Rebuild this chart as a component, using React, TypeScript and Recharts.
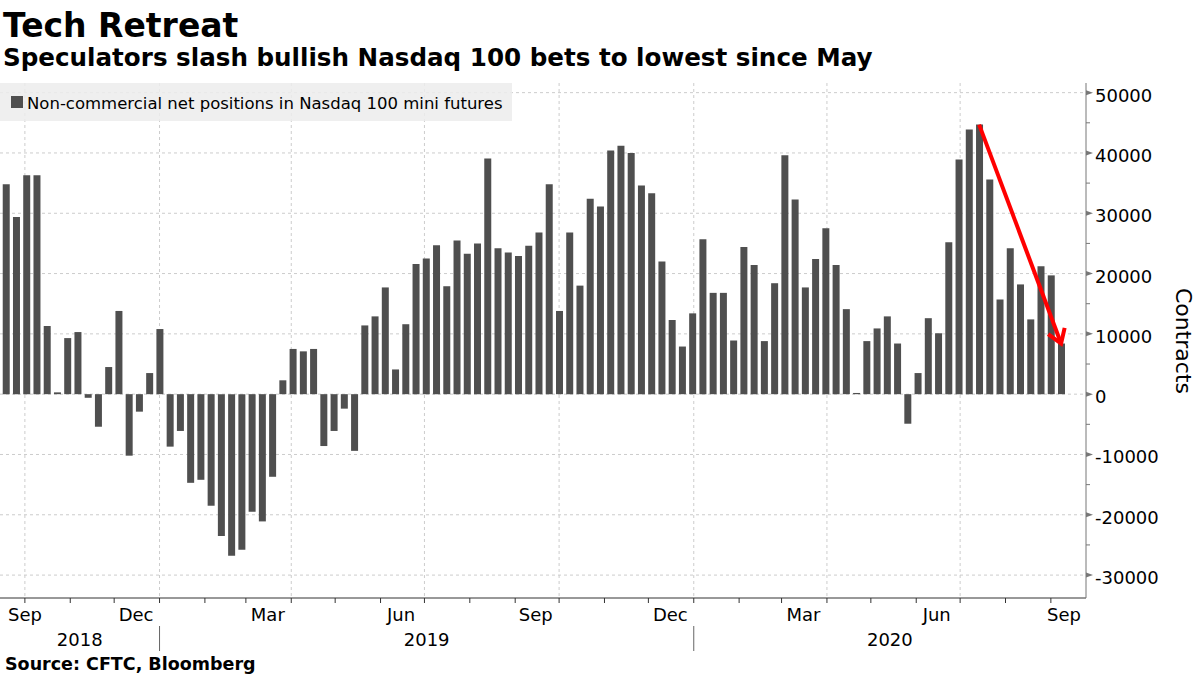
import React from 'react';
import { BarChart, Bar, XAxis, YAxis, CartesianGrid, ReferenceLine } from 'recharts';

const DAY = 86400000;

// weekly CFTC report dates (Tuesdays), Sep 18 2018 .. Sep 8 2020
const firstReport = Date.UTC(2018, 8, 18);

// non-commercial net positions, contracts
const netPositions = [
  34800, 29400, 36300, 36300, 11300, 300, 9300, 10300, -600, -5400,
  4500, 13800, -10200, -2900, 3500, 10800, -8700, -6100, -14700, -14200,
  -18500, -23500, -26800, -25800, -19500, -21100, -13700, 2300, 7500, 7100,
  7500, -8600, -6100, -2400, -9400, 11400, 12900, 17700, 4100, 11600,
  21600, 22500, 24700, 17900, 25500, 23300, 25000, 39100, 24200, 23500,
  22900, 24600, 26800, 34800, 13800, 26800, 18000, 32400, 31100, 40400,
  41200, 40000, 34600, 33300, 22000, 12300, 7900, 13400, 25700, 16800,
  16800, 8900, 24400, 21400, 8800, 18400, 39600, 32300, 17700, 22400,
  27500, 21400, 14100, 200, 8800, 10900, 12900, 8400, -4900, 3500,
  12600, 10100, 25200, 38900, 43900, 44700, 35600, 15700, 24200, 18200,
  12400, 21200, 19700, 8400,
];

const reportDates = netPositions.map((_, i) => firstReport + i * 7 * DAY);
const data = reportDates.map((t, i) => ({ t, v: netPositions[i] }));

const xDomain = [Date.UTC(2018, 8, 14), Date.UTC(2020, 8, 25)];
const yDomain = [-33800, 51600];

const yTicks = [-30000, -25000, -20000, -15000, -10000, -5000, 0, 5000, 10000, 15000, 20000, 25000, 30000, 35000, 40000, 45000, 50000];
const yGrid = [-30000, -20000, -10000, 0, 10000, 20000, 30000, 40000, 50000];

const monthStarts: number[] = [];
for (let m = 9; m <= 32; m++) monthStarts.push(Date.UTC(2018, m, 1));
const quarterStarts = monthStarts.filter((t) => new Date(t).getUTCMonth() % 3 === 0);

const quarterLabels = [
  { t: Date.UTC(2018, 8, 15), label: 'Sep' },
  { t: Date.UTC(2018, 11, 16), label: 'Dec' },
  { t: Date.UTC(2019, 2, 16), label: 'Mar' },
  { t: Date.UTC(2019, 5, 15), label: 'Jun' },
  { t: Date.UTC(2019, 8, 15), label: 'Sep' },
  { t: Date.UTC(2019, 11, 16), label: 'Dec' },
  { t: Date.UTC(2020, 2, 16), label: 'Mar' },
  { t: Date.UTC(2020, 5, 15), label: 'Jun' },
  { t: Date.UTC(2020, 8, 15), label: 'Sep' },
];

const yearBounds = [xDomain[0], Date.UTC(2019, 0, 1), Date.UTC(2020, 0, 1), xDomain[1]];
const yearNames = ['2018', '2019', '2020'];
const yearLabels = yearNames.map((label, i) => ({
  t: Math.round((yearBounds[i] + yearBounds[i + 1]) / 2),
  label,
}));

const xTicks = [...monthStarts, ...quarterLabels.map((d) => d.t), ...yearLabels.map((d) => d.t)].sort((a, b) => a - b);

const BAR = '#4f4f4f';
const FONT = "'DejaVu Sans', Verdana, sans-serif";

function XTick(props: any) {
  const { x, y, payload } = props;
  const v = payload.value;
  const q = quarterLabels.find((d) => d.t === v);
  if (q) {
    const cx = Math.min(Math.max(x, 25), 1064);
    return (
      <text x={cx} y={y + 23} textAnchor="middle" fontSize={18} fill="#000" fontFamily={FONT}>
        {q.label}
      </text>
    );
  }
  const yr = yearLabels.find((d) => d.t === v);
  if (yr) {
    return (
      <text x={x} y={y + 48} textAnchor="middle" fontSize={18} fill="#000" fontFamily={FONT}>
        {yr.label}
      </text>
    );
  }
  const yearStart = new Date(v).getUTCMonth() === 0;
  return (
    <g>
      <line x1={x} x2={x} y1={y} y2={y + 5} stroke="#333" />
      {yearStart && <line x1={x} x2={x} y1={y + 28} y2={y + 53} stroke="#666" />}
    </g>
  );
}

function YTick(props: any) {
  const { x, y, payload } = props;
  const v = payload.value;
  const major = v % 10000 === 0;
  if (!major) {
    return <line x1={x} x2={x + 4} y1={y} y2={y} stroke="#777" />;
  }
  return (
    <g>
      <polygon points={`${x},${y - 2.5} ${x + 7},${y} ${x},${y + 2.5}`} fill="#777" />
      <text x={x + 9} y={y + 9} fontSize={18} fill="#000" fontFamily={FONT}>
        {v}
      </text>
    </g>
  );
}

function Arrow(props: any) {
  const { x1, y1, x2, y2 } = props;
  const ang = Math.atan2(y2 - y1, x2 - x1);
  const len = 16;
  const spread = 0.58;
  const a1x = x2 - len * Math.cos(ang - spread);
  const a1y = y2 - len * Math.sin(ang - spread);
  const a2x = x2 - len * Math.cos(ang + spread);
  const a2y = y2 - len * Math.sin(ang + spread);
  return (
    <g>
      <line x1={x1} y1={y1} x2={x2} y2={y2} stroke="#ff0000" strokeWidth={4} />
      <polyline
        points={`${a1x},${a1y} ${x2},${y2} ${a2x},${a2y}`}
        fill="none"
        stroke="#ff0000"
        strokeWidth={4}
        strokeLinejoin="miter"
      />
    </g>
  );
}

export default function App() {
  const peak = 95;
  const last = netPositions.length - 1;
  return (
    <div style={{ position: 'absolute', left: 0, top: 0, width: 1200, height: 675, background: '#fff', fontFamily: FONT }}>
      <BarChart width={1200} height={675} data={data} margin={{ top: 83, right: 0, bottom: 0, left: 0 }}>
        <CartesianGrid
          horizontalValues={yGrid}
          verticalValues={quarterStarts}
          stroke="#cccccc"
          strokeDasharray="3 3"
        />
        <XAxis
          dataKey="t"
          type="number"
          domain={xDomain}
          allowDataOverflow
          ticks={xTicks}
          interval={0}
          height={77}
          tickSize={0}
          tickMargin={0}
          tickLine={false}
          axisLine={{ stroke: '#333' }}
          tick={<XTick />}
        />
        <YAxis
          orientation="right"
          width={114}
          domain={yDomain}
          allowDataOverflow
          ticks={yTicks}
          interval={0}
          tickSize={0}
          tickMargin={0}
          tickLine={false}
          axisLine={{ stroke: '#777' }}
          tick={<YTick />}
        />
        <Bar dataKey="v" fill={BAR} barSize={7} isAnimationActive={false} />
        <ReferenceLine
          segment={[
            { x: reportDates[peak], y: netPositions[peak] },
            { x: reportDates[last], y: netPositions[last] },
          ]}
          shape={Arrow}
        />
      </BarChart>
      <svg width={1200} height={675} style={{ position: 'absolute', left: 0, top: 0, pointerEvents: 'none' }}>
        <text x={3} y={37} fontSize={33} fontWeight="bold" fill="#000" fontFamily={FONT}>
          Tech Retreat
        </text>
        <text x={3} y={66} fontSize={24.6} fontWeight="bold" fill="#000" fontFamily={FONT}>
          Speculators slash bullish Nasdaq 100 bets to lowest since May
        </text>
        <rect x={0} y={83} width={512} height={38} fill="rgba(236,236,236,0.85)" />
        <rect x={11} y={96} width={12} height={12} fill={BAR} />
        <text x={27} y={109} fontSize={16.5} fill="#000" fontFamily={FONT}>
          Non-commercial net positions in Nasdaq 100 mini futures
        </text>
        <text
          x={1183}
          y={341}
          fontSize={22}
          fill="#000"
          fontFamily={FONT}
          textAnchor="middle"
          dominantBaseline="central"
          transform="rotate(90 1183 341)"
        >
          Contracts
        </text>
        <text x={5} y={670} fontSize={17.5} fontWeight="bold" fill="#000" fontFamily={FONT}>
          Source: CFTC, Bloomberg
        </text>
      </svg>
    </div>
  );
}
